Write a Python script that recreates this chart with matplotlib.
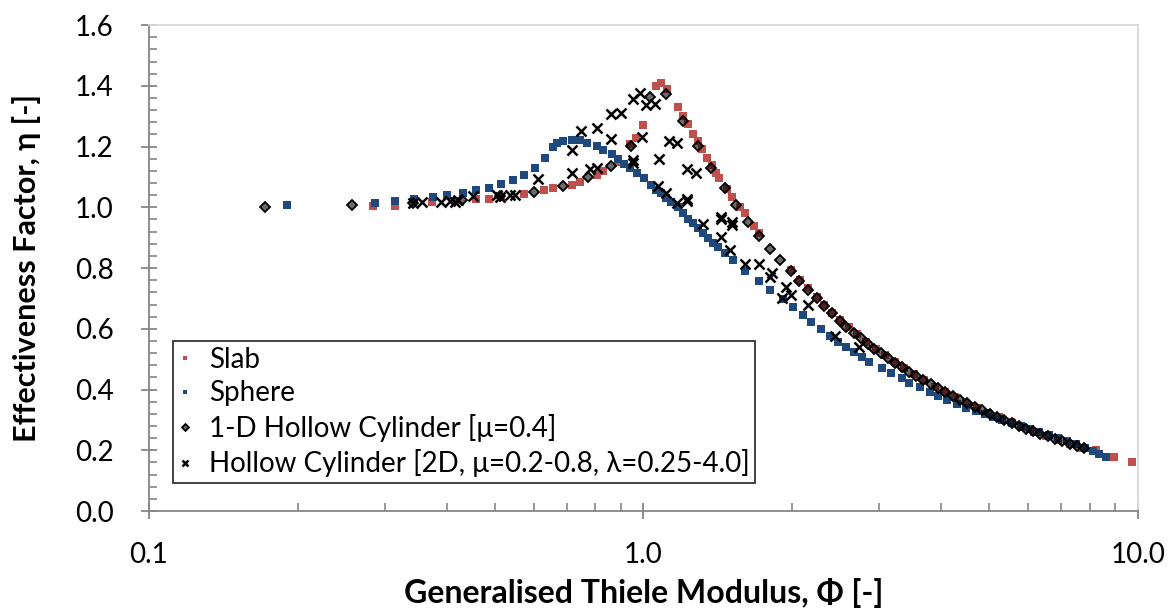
import matplotlib
matplotlib.use("Agg")
import matplotlib.pyplot as plt
from matplotlib.ticker import FixedLocator, MultipleLocator, FuncFormatter

plt.rcParams["font.family"] = ["Lato", "DejaVu Sans"]

# Slab
slab_phi = [0.284, 0.314, 0.373, 0.416, 0.459, 0.488, 0.516, 0.574, 0.630, 0.656,
            0.718, 0.745, 0.804, 0.828, 0.889, 0.939, 0.968, 0.996, 1.062, 1.087,
            1.117, 1.176, 1.204, 1.229, 1.258, 1.288, 1.314, 1.342, 1.375, 1.400,
            1.422, 1.477, 1.512, 1.571, 1.607, 1.670, 1.710, 1.986, 2.07, 2.15,
            2.24, 2.32, 2.41, 2.50, 2.60, 2.70, 2.82, 2.95, 3.08, 3.22,
            3.37, 3.53, 3.70, 3.88, 4.07, 4.27, 4.49, 4.72, 4.97, 5.24,
            5.53, 5.84, 6.17, 6.52, 6.89, 7.28, 7.70, 8.24, 8.93, 9.74]
slab_eta = [1.004, 1.004, 1.016, 1.021, 1.026, 1.029, 1.033, 1.043, 1.057, 1.063,
            1.075, 1.085, 1.108, 1.118, 1.150, 1.207, 1.229, 1.270, 1.399, 1.408,
            1.389, 1.330, 1.300, 1.273, 1.243, 1.218, 1.191, 1.164, 1.139, 1.114,
            1.095, 1.059, 1.035, 1.002, 0.980, 0.939, 0.914, 0.793, 0.762, 0.735,
            0.705, 0.678, 0.653, 0.629, 0.605, 0.583, 0.558, 0.535, 0.513, 0.492,
            0.470, 0.450, 0.430, 0.410, 0.392, 0.374, 0.357, 0.340, 0.324, 0.308,
            0.292, 0.276, 0.261, 0.247, 0.233, 0.220, 0.207, 0.200, 0.179, 0.163]

# Sphere
sphere_phi = [0.190, 0.287, 0.315, 0.343, 0.375, 0.400, 0.431, 0.459, 0.488, 0.516,
              0.544, 0.574, 0.603, 0.632, 0.656, 0.670, 0.688, 0.718, 0.745, 0.770,
              0.804, 0.828, 0.863, 0.890, 0.914, 0.939, 0.971, 1.003, 1.034, 1.062,
              1.087, 1.112, 1.138, 1.176, 1.204, 1.231, 1.259, 1.290, 1.319, 1.349,
              1.381, 1.414, 1.459, 1.515, 1.606, 1.712, 1.803, 1.915, 2.01, 2.10,
              2.18, 2.29, 2.38, 2.47, 2.57, 2.67, 2.77, 2.86, 3.03, 3.16,
              3.33, 3.45, 3.62, 3.80, 3.95, 4.11, 4.30, 4.50, 4.70, 4.90,
              5.10, 5.30, 5.55, 5.80, 6.05, 6.30, 6.60, 6.90, 7.20, 7.50,
              7.80, 8.10, 8.35, 8.60]
sphere_eta = [1.006, 1.015, 1.022, 1.026, 1.033, 1.039, 1.047, 1.057, 1.063, 1.076,
              1.089, 1.108, 1.128, 1.161, 1.199, 1.212, 1.218, 1.221, 1.221, 1.212,
              1.202, 1.188, 1.174, 1.159, 1.141, 1.130, 1.112, 1.095, 1.075, 1.057,
              1.046, 1.031, 1.018, 1.002, 0.982, 0.963, 0.947, 0.931, 0.914, 0.898,
              0.883, 0.870, 0.848, 0.826, 0.791, 0.757, 0.728, 0.699, 0.672, 0.645,
              0.623, 0.598, 0.576, 0.557, 0.541, 0.524, 0.508, 0.492, 0.470, 0.453,
              0.437, 0.422, 0.407, 0.393, 0.379, 0.365, 0.352, 0.340, 0.328, 0.318,
              0.309, 0.300, 0.290, 0.280, 0.270, 0.261, 0.251, 0.241, 0.231, 0.221,
              0.209, 0.197, 0.188, 0.179]

# 1-D hollow cylinder, mu = 0.4
hc1d_phi = [0.172, 0.258, 0.342, 0.429, 0.512, 0.600, 0.688, 0.774, 0.858, 0.944,
            1.030, 1.112, 1.204, 1.290, 1.370, 1.459, 1.540, 1.630, 1.710, 1.800,
            1.890, 1.985, 2.06, 2.15, 2.24, 2.32, 2.41, 2.50, 2.57, 2.66,
            2.75, 2.84, 2.93, 3.02, 3.12, 3.22, 3.33, 3.44, 3.56, 3.68,
            3.81, 3.94, 4.08, 4.22, 4.37, 4.52, 4.68, 4.84, 5.01, 5.18,
            5.36, 5.55, 5.74, 5.94, 6.14, 6.35, 6.57, 6.80, 7.03, 7.27,
            7.52, 7.77]
hc1d_eta = [1.000, 1.006, 1.014, 1.023, 1.036, 1.050, 1.070, 1.099, 1.137, 1.203,
            1.362, 1.373, 1.285, 1.203, 1.131, 1.064, 1.007, 0.952, 0.906, 0.864,
            0.825, 0.789, 0.757, 0.728, 0.701, 0.675, 0.651, 0.627, 0.607, 0.587,
            0.569, 0.551, 0.535, 0.519, 0.503, 0.488, 0.473, 0.459, 0.444, 0.431,
            0.417, 0.404, 0.391, 0.379, 0.367, 0.355, 0.343, 0.331, 0.320, 0.310,
            0.300, 0.290, 0.280, 0.271, 0.263, 0.255, 0.247, 0.238, 0.230, 0.222,
            0.214, 0.206]

# 2-D hollow cylinder, mu = 0.2-0.8, lambda = 0.25-4.0
hc2d_phi = [0.342, 0.357, 0.390, 0.406, 0.416, 0.422, 0.453, 0.505, 0.512, 0.537,
            0.550, 0.612, 0.716, 0.716, 0.748, 0.780, 0.804, 0.804, 0.858, 0.858,
            0.901, 0.953, 0.984, 1.012, 1.057, 0.953, 0.953, 0.992, 1.075, 1.124,
            1.168, 1.227, 1.279, 1.068, 1.110, 1.168, 1.227, 1.227, 1.319, 1.433,
            1.433, 1.509, 1.509, 1.433, 1.496, 1.606, 1.710, 1.820, 1.800, 1.940,
            1.990, 1.910, 2.150, 2.440, 2.730]
hc2d_eta = [1.015, 1.018, 1.018, 1.022, 1.018, 1.024, 1.037, 1.040, 1.035, 1.040,
            1.040, 1.092, 1.188, 1.114, 1.252, 1.125, 1.128, 1.260, 1.225, 1.307,
            1.311, 1.355, 1.375, 1.337, 1.339, 1.156, 1.145, 1.232, 1.158, 1.218,
            1.213, 1.125, 1.112, 1.070, 1.046, 1.013, 1.029, 1.021, 0.944, 0.969,
            0.960, 0.952, 0.941, 0.901, 0.861, 0.813, 0.815, 0.785, 0.771, 0.738,
            0.711, 0.700, 0.678, 0.576, 0.539]

legend_labels = ["Slab", "Sphere", "1-D Hollow Cylinder [\u03bc=0.4]",
                 "Hollow Cylinder [2D, \u03bc=0.2-0.8, \u03bb=0.25-4.0]"]

fig = plt.figure(figsize=(11.72, 6.12), dpi=100)
ax = fig.add_axes([0.127, 0.165, 0.844, 0.794])

ax.plot(slab_phi, slab_eta, linestyle="none", marker="s", markersize=5.2,
        color="#C0504D", markeredgewidth=0, label=legend_labels[0])
ax.plot(sphere_phi, sphere_eta, linestyle="none", marker="s", markersize=5.2,
        color="#1F497D", markeredgewidth=0, label=legend_labels[1])
ax.plot(hc1d_phi, hc1d_eta, linestyle="none", marker="D", markersize=5.4,
        markerfacecolor=(0, 0, 0, 0.58), markeredgecolor="black",
        markeredgewidth=1.3, label=legend_labels[2])
ax.plot(hc2d_phi, hc2d_eta, linestyle="none", marker="x", markersize=7,
        color="black", markeredgewidth=1.8, label=legend_labels[3])

ax.set_xscale("log")
ax.set_xlim(0.1, 10.0)
ax.set_ylim(0.0, 1.6)

ax.xaxis.set_major_locator(FixedLocator([0.1, 1.0, 10.0]))
ax.xaxis.set_minor_locator(FixedLocator([0.2, 0.3, 0.4, 0.5, 0.6, 0.7, 0.8, 0.9,
                                         2, 3, 4, 5, 6, 7, 8, 9]))
ax.xaxis.set_major_formatter(FuncFormatter(lambda v, p: f"{v:.1f}"))
ax.xaxis.set_minor_formatter(FuncFormatter(lambda v, p: ""))
ax.yaxis.set_major_locator(MultipleLocator(0.2))
ax.yaxis.set_minor_locator(MultipleLocator(0.04))
ax.yaxis.set_major_formatter(FuncFormatter(lambda v, p: f"{v:.1f}"))

axis_grey = "#868686"
for side in ["left", "bottom"]:
    ax.spines[side].set_color(axis_grey)
    ax.spines[side].set_linewidth(1.3)
for side in ["top", "right"]:
    ax.spines[side].set_color("#D9D9D9")
    ax.spines[side].set_linewidth(1.3)

ax.tick_params(which="major", direction="inout", length=11, width=1.3,
               color=axis_grey, labelsize=20)
ax.tick_params(which="minor", direction="in", length=6, width=1.2,
               color=axis_grey)
ax.tick_params(axis="y", which="major", pad=20)
ax.tick_params(axis="x", which="major", pad=17)

ax.set_xlabel("Generalised Thiele Modulus, \u03a6 [-]", fontsize=23,
              fontweight="bold", labelpad=7)
ax.set_ylabel("Effectiveness Factor, \u03b7 [-]", fontsize=22,
              fontweight="bold", labelpad=24)

leg = ax.legend(loc="lower left", bbox_to_anchor=(0.024, 0.058), fontsize=20,
                frameon=True, fancybox=False, edgecolor="black",
                markerscale=0.65, handlelength=0.5, handletextpad=0.6,
                borderpad=0.2, labelspacing=0.27, borderaxespad=0)
leg.get_frame().set_linewidth(1.3)

fig.savefig("out.png", dpi=100)
